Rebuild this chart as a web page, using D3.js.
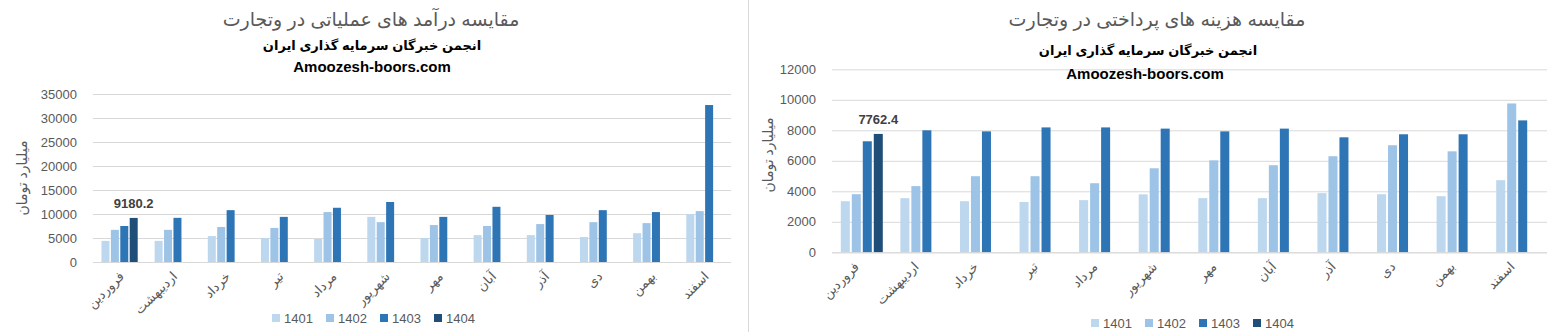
<!DOCTYPE html>
<html>
<head>
<meta charset="utf-8">
<script src="https://cdn.jsdelivr.net/npm/d3@7"></script>
<style>
  html, body { margin: 0; padding: 0; background: #ffffff; }
  svg { display: block; }
  text { font-family: "Liberation Sans", "DejaVu Sans", Arial, sans-serif; }
</style>
</head>
<body>
<svg id="chart" width="1551" height="332"></svg>
<script>
// Months of the Persian calendar (category axis)
const months = ["فروردین", "اردیبهشت", "خرداد", "تیر", "مرداد", "شهریور", "مهر", "آبان", "آذر", "دی", "بهمن", "اسفند"];
const years = ["1401", "1402", "1403", "1404"];
const yearColors = ["#bdd7ee", "#9dc3e6", "#2e75b6", "#1f4e79"];

// Operating revenue (billion toman)
const revenue1401 = [4400, 4400, 5400, 5000, 4800, 9400, 5000, 5600, 5600, 5200, 6000, 10000];
const revenue1402 = [6700, 6700, 7300, 7100, 10400, 8300, 7700, 7500, 7900, 8300, 8100, 10600];
const revenue1403 = [7500, 9200, 10800, 9400, 11300, 12500, 9400, 11500, 9800, 10800, 10400, 32700];
const revenue1404 = [9180.2, null, null, null, null, null, null, null, null, null, null, null];
const revenueTicks = [0, 5000, 10000, 15000, 20000, 25000, 30000, 35000];

// Paid costs (billion toman)
const cost1401 = [3350, 3550, 3350, 3300, 3420, 3800, 3550, 3550, 3880, 3810, 3680, 4730];
const cost1402 = [3810, 4340, 4990, 4990, 4530, 5510, 6030, 5710, 6300, 7020, 6620, 9760];
const cost1403 = [7280, 8000, 7930, 8190, 8190, 8110, 7930, 8110, 7540, 7740, 7740, 8650];
const cost1404 = [7762.4, null, null, null, null, null, null, null, null, null, null, null];
const costTicks = [0, 2000, 4000, 6000, 8000, 10000, 12000];

const titleRevenue = "مقایسه درآمد های عملیاتی در وتجارت";
const titleCost = "مقایسه هزینه های پرداختی در وتجارت";
const subtitle = "انجمن خبرگان سرمایه گذاری ایران";
const siteName = "Amoozesh-boors.com";
const yAxisTitle = "میلیارد تومان";

const svg = d3.select("#chart");

// separator between the two panels
svg.append("line")
  .attr("x1", 748.5).attr("x2", 748.5)
  .attr("y1", 0).attr("y2", 332)
  .attr("stroke", "#d9d9d9").attr("stroke-width", 1);

function drawPanel(cfg) {
  const g = svg.append("g");
  const series = [cfg.s1401, cfg.s1402, cfg.s1403, cfg.s1404];

  const x0 = d3.scaleBand().domain(months).range([cfg.left, cfg.right]).padding(0);
  const x1 = d3.scaleBand().domain(years).range([0, x0.bandwidth()])
    .paddingInner(cfg.barInner).paddingOuter(cfg.barOuter);
  const y = d3.scaleLinear().domain([0, d3.max(cfg.ticks)]).range([cfg.bottom, cfg.top]);

  // gridlines + tick labels
  const yAxis = d3.axisLeft(y).tickValues(cfg.ticks).tickSize(-(cfg.right - cfg.left)).tickPadding(16).tickFormat(d3.format("d"));
  const ya = g.append("g").attr("transform", `translate(${cfg.left},0)`).call(yAxis);
  ya.select(".domain").remove();
  ya.selectAll(".tick line").attr("stroke", "#d9d9d9").attr("stroke-width", 1);
  ya.selectAll(".tick text").attr("fill", "#595959").attr("font-size", 13)
    .attr("font-family", "Liberation Sans, Arial, sans-serif");

  // bars
  years.forEach((yr, si) => {
    const vals = series[si];
    g.append("g").selectAll("rect")
      .data(months.map((m, i) => ({ m, v: vals[i] })).filter(d => d.v != null))
      .join("rect")
      .attr("x", d => x0(d.m) + x1(yr))
      .attr("width", x1.bandwidth())
      .attr("y", d => y(d.v))
      .attr("height", d => y(0) - y(d.v))
      .attr("fill", yearColors[si]);
  });

  // baseline
  g.append("line")
    .attr("x1", cfg.left).attr("x2", cfg.right)
    .attr("y1", y(0) + 0.5).attr("y2", y(0) + 0.5)
    .attr("stroke", "#d9d9d9");

  // value label on the latest-year bar
  const lastVal = cfg.s1404[0];
  g.append("text")
    .attr("x", x0(months[0]) + x1("1404") + x1.bandwidth() / 2)
    .attr("y", y(lastVal) - 10)
    .attr("text-anchor", "middle")
    .attr("font-size", 13).attr("font-weight", "bold").attr("fill", "#404040")
    .text(d3.format(".1f")(lastVal));

  // month labels, rotated
  g.append("g").selectAll("text")
    .data(months)
    .join("text")
    .attr("transform", d => `translate(${x0(d) + x0.bandwidth() / 2 + cfg.labelDx},${cfg.bottom + 12}) rotate(-45)`)
    .attr("text-anchor", "end")
    .attr("dy", "0.35em")
    .attr("font-size", 13).attr("fill", "#595959")
    .attr("font-family", "DejaVu Sans, sans-serif")
    .text(d => d);

  // y axis title
  g.append("text")
    .attr("transform", `translate(${cfg.yTitleX},${cfg.yTitleY}) rotate(-90)`)
    .attr("text-anchor", "middle")
    .attr("font-size", 14).attr("fill", "#595959")
    .attr("font-family", "DejaVu Sans, sans-serif")
    .text(yAxisTitle);

  // titles
  g.append("text")
    .attr("x", cfg.titleX).attr("y", 26)
    .attr("text-anchor", "middle")
    .attr("font-size", 19).attr("fill", "#595959")
    .attr("font-family", "DejaVu Sans, sans-serif")
    .text(cfg.title);
  g.append("text")
    .attr("x", cfg.subX).attr("y", cfg.subY)
    .attr("text-anchor", "middle")
    .attr("font-size", 13).attr("font-weight", "bold").attr("fill", "#000000")
    .attr("font-family", "DejaVu Sans, sans-serif")
    .text(subtitle);
  g.append("text")
    .attr("x", cfg.siteX).attr("y", cfg.siteY)
    .attr("text-anchor", "middle")
    .attr("font-size", 15).attr("font-weight", "bold").attr("fill", "#000000")
    .attr("font-family", "DejaVu Sans, sans-serif")
    .text(siteName);

  // legend
  const lg = g.append("g").selectAll("g")
    .data(years)
    .join("g")
    .attr("transform", (d, i) => `translate(${cfg.legendX + i * 54},${cfg.legendY})`);
  lg.append("rect").attr("x", 0).attr("y", -4).attr("width", 8).attr("height", 8)
    .attr("fill", (d, i) => yearColors[i]);
  lg.append("text").attr("x", 12).attr("y", 0).attr("dy", "0.35em")
    .attr("font-size", 13).attr("fill", "#595959")
    .text(d => d);
}

drawPanel({
  s1401: revenue1401, s1402: revenue1402, s1403: revenue1403, s1404: revenue1404,
  ticks: revenueTicks,
  left: 93, right: 731, top: 94, bottom: 262,
  barInner: 0.15, barOuter: 0.9, labelDx: 2,
  yTitleX: 27, yTitleY: 178,
  title: titleRevenue, titleX: 371, subX: 372, subY: 50, siteX: 372, siteY: 72,
  legendX: 272, legendY: 318
});

drawPanel({
  s1401: cost1401, s1402: cost1402, s1403: cost1403, s1404: cost1404,
  ticks: costTicks,
  left: 832, right: 1547, top: 69.3, bottom: 252.3,
  barInner: 0.18, barOuter: 0.8, labelDx: -5,
  yTitleX: 773, yTitleY: 155,
  title: titleCost, titleX: 1157, subX: 1148, subY: 55, siteX: 1145, siteY: 79,
  legendX: 1091, legendY: 323
});
</script>
</body>
</html>
